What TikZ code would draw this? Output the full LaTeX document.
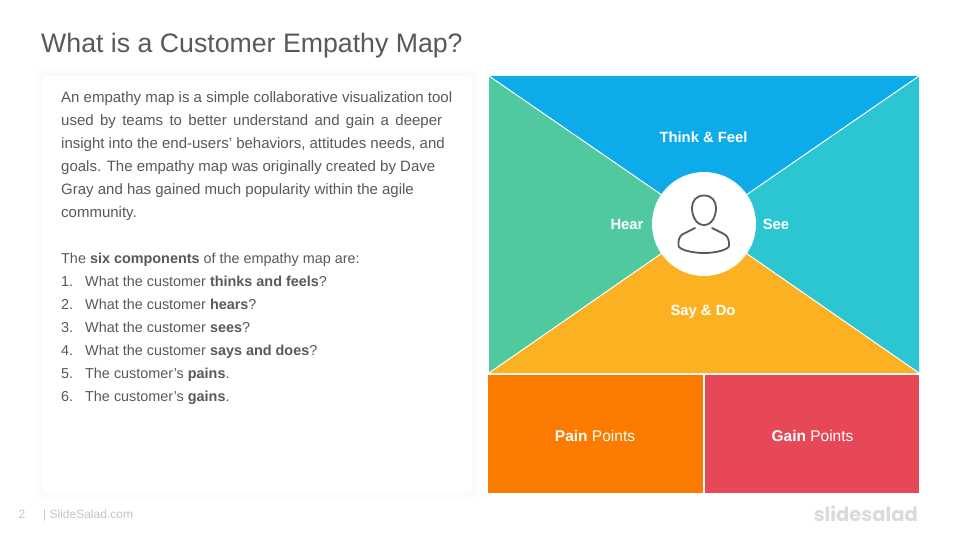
\documentclass[tikz,border=0pt]{standalone}
\usepackage{fontspec}
\setmainfont{Liberation Sans}
\newfontfamily\logofont{Poppins}
\definecolor{cblue}{HTML}{0DABEA}
\definecolor{cgreen}{HTML}{4FC99D}
\definecolor{cteal}{HTML}{2CC6D3}
\definecolor{cyellow}{HTML}{FBB122}
\definecolor{corange}{HTML}{FB7A00}
\definecolor{cred}{HTML}{E64857}
\definecolor{ctext}{HTML}{595959}
\definecolor{cfoot}{HTML}{C4C4C4}
\newcommand{\smalltxt}{\fontsize{14.4}{23}\selectfont}
\newcommand{\li}[2]{\smalltxt\makebox[24pt][l]{#1}#2}
\tikzset{
  panel/.style={draw=none},
  lbl/.style={text=white,font=\fontsize{14.8}{18}\selectfont\bfseries,inner sep=0pt},
  lblb/.style={text=white,font=\fontsize{15.5}{18}\selectfont,inner sep=0pt},
  halo/.style={draw=black,opacity=0.005,line width=#1,rounded corners=3pt},
  icon/.style={draw=ctext,line width=1.8pt,line cap=round,line join=round}
}
\begin{document}
\begin{tikzpicture}[x=1pt,y=-1pt]
\useasboundingbox (0,0) rectangle (960,540);
\fill[white] (0,0) rectangle (960,540);
\node[anchor=base west,inner sep=0pt,text=ctext,font=\fontsize{26.7}{32}\selectfont] (title) at (41,53) {What is a Customer Empathy Map?};
% card
\foreach \w in {18,14,10,7,4,2}{\draw[halo=\w pt] (42,76) rectangle (472,493);}
\fill[white,rounded corners=3pt] (42,76) rectangle (472,493);
\node[anchor=north west,inner sep=0pt,text=ctext,align=left,font=\fontsize{15}{23}\selectfont] (body) at (61,91) {%
An empathy map is a simple collaborative visualization tool\\
\makebox[381pt][s]{used by teams to better understand and gain a deeper}\\
insight into the end-users' behaviors, attitudes needs, and\\
goals. The empathy map was originally created by Dave\\
Gray and has gained much popularity within the agile\\
community.\\
\\
\smalltxt The \textbf{six components} of the empathy map are:\\
\li{1.}{What the customer \textbf{thinks and feels}?}\\
\li{2.}{What the customer \textbf{hears}?}\\
\li{3.}{What the customer \textbf{sees}?}\\
\li{4.}{What the customer \textbf{says and does}?}\\
\li{5.}{The customer's \textbf{pains}.}\\
\li{6.}{The customer's \textbf{gains}.}};
% wedges
\coordinate (c) at (704,224);
\coordinate (tl) at (489,76);
\coordinate (tr) at (919,76);
\coordinate (bl) at (489,373);
\coordinate (br) at (919,373);
\fill[cblue] (tl) -- (tr) -- (c) -- cycle;
\fill[cgreen] (tl) -- (bl) -- (c) -- cycle;
\fill[cteal] (tr) -- (br) -- (c) -- cycle;
\fill[cyellow] (bl) -- (br) -- (c) -- cycle;
\draw[white,line width=1pt] (tl) -- (c) (tr) -- (c) (bl) -- (c) (br) -- (c);
\node[circle,fill=white,minimum size=104pt,inner sep=0pt] (hub) at (c) {};
% person icon
\draw[icon] (704,195.5) .. controls (696,195.5) and (692,201) .. (692,208)
  .. controls (692,216) and (696,225) .. (704,225)
  .. controls (712,225) and (716,216) .. (716,208)
  .. controls (716,201) and (712,195.5) .. (704,195.5) -- cycle;
\draw[icon] (695,228) -- (683,234) .. controls (679,236) and (678,241) .. (678.5,246)
  .. controls (679,249) and (690,253) .. (704,253)
  .. controls (718,253) and (728.5,249) .. (729,246)
  .. controls (729.5,241) and (728,236) .. (724,234) -- (712,228);
% bottom boxes
\fill[corange] (488,375) rectangle (703.3,493);
\fill[cred] (705,375) rectangle (919,493);
% labels
\node[lbl] (think) at (703.5,137) {Think \& Feel};
\node[lbl] (hear) at (627,224.5) {Hear};
\node[lbl] (see) at (776,224.5) {See};
\node[lbl] (say) at (703,312) {Say \& Do};
\node[lblb] (pain) at (595,435.5) {\textbf{Pain} Points};
\node[lblb] (gain) at (812.5,435.5) {\textbf{Gain} Points};
% footer
\node[anchor=base,inner sep=0pt,text=cfoot,font=\fontsize{12}{14}\selectfont] (num) at (22,518) {2};
\node[anchor=base west,inner sep=0pt,text=cfoot,font=\fontsize{12}{14}\selectfont] (site) at (43,518) {| SlideSalad.com};
\node[anchor=base east,inner sep=0pt,text=black!14,font=\logofont\bfseries\fontsize{19.5}{28}\selectfont] (logo) at (918,521) {slidesalad};
\end{tikzpicture}
\end{document}
